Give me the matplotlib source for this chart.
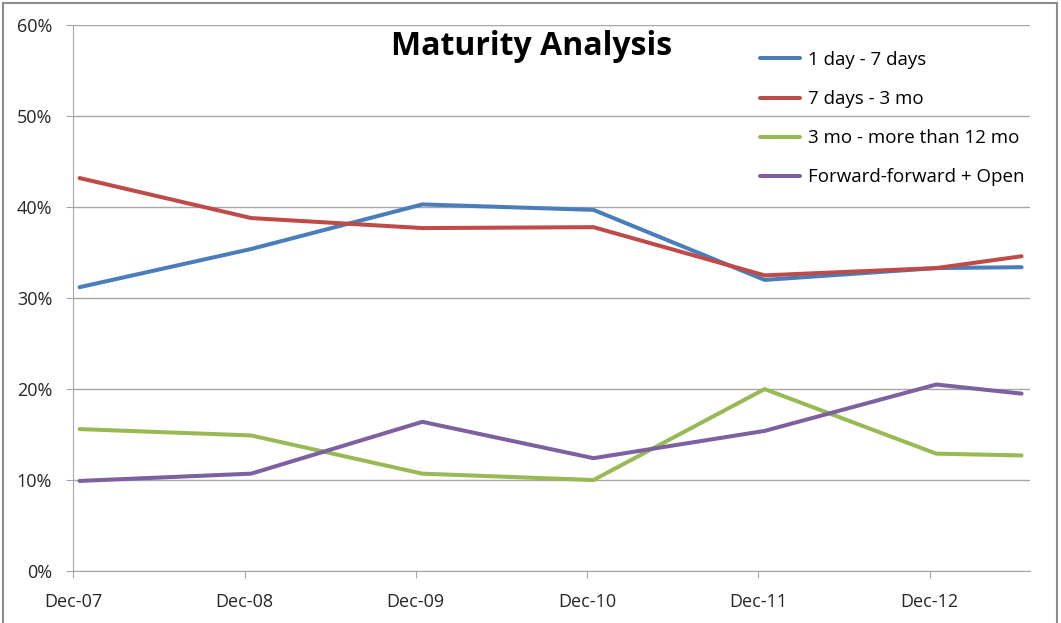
import pandas as pd
import matplotlib
matplotlib.use("Agg")
import matplotlib.pyplot as plt
import matplotlib.dates as mdates
from matplotlib.patches import Rectangle
from matplotlib.ticker import FuncFormatter

# Data (share of total, in %)
dates = pd.to_datetime(["2007-12-15", "2008-12-15", "2009-12-15", "2010-12-15",
                        "2011-12-15", "2012-12-15", "2013-06-15"])
one_day_7_days = [31.2, 35.4, 40.3, 39.7, 32.0, 33.3, 33.4]
seven_days_3_mo = [43.2, 38.8, 37.7, 37.8, 32.5, 33.3, 34.6]
three_mo_12_mo = [15.6, 14.9, 10.7, 10.0, 20.0, 12.9, 12.7]
fwd_fwd_open = [9.9, 10.7, 16.4, 12.4, 15.4, 20.5, 19.5]

labels = ["1 day - 7 days", "7 days - 3 mo", "3 mo - more than 12 mo", "Forward-forward + Open"]
colors = ["#4A7EBB", "#BE4B48", "#98B954", "#7D60A0"]

plt.rcParams['font.family'] = ['Open Sans', 'DejaVu Sans']

fig = plt.figure(figsize=(10.61, 6.23), dpi=100)
ax = fig.add_axes([0.0688, 0.0835, 0.902, 0.876])

# outer chart border
fig.patches.append(Rectangle((0.003, -0.05), 0.993, 1.045, transform=fig.transFigure,
                             fill=False, edgecolor="#8c8c8c", linewidth=1.5))

series = [one_day_7_days, seven_days_3_mo, three_mo_12_mo, fwd_fwd_open]
for vals, lab, col in zip(series, labels, colors):
    ax.plot(dates, vals, color=col, linewidth=2.9, label=lab, solid_capstyle="round")

ax.set_ylim(0, 60)
ax.set_yticks(range(0, 61, 10))
ax.yaxis.set_major_formatter(FuncFormatter(lambda v, p: f"{v:.0f}%"))
ax.set_xlim(pd.Timestamp("2007-12-01"), pd.Timestamp("2013-07-03"))
ax.xaxis.set_major_locator(mdates.MonthLocator(bymonth=12, bymonthday=1))
ax.xaxis.set_major_formatter(mdates.DateFormatter("Dec-%y"))

ax.grid(axis="y", color="#a6a6a6", linewidth=1)
ax.set_axisbelow(True)
for s in ["top", "right"]:
    ax.spines[s].set_visible(False)
for s in ["left", "bottom"]:
    ax.spines[s].set_color("#a6a6a6")
ax.tick_params(axis="both", colors="#a6a6a6", labelcolor="#262626", labelsize=13, length=5)
ax.tick_params(axis="x", pad=11)
ax.tick_params(axis="y", pad=10)

ax.text(0.479, 1 - 21 / 546, "Maturity Analysis", transform=ax.transAxes, ha="center",
        va="center", fontsize=23, fontweight="bold")

ax.legend(loc="upper left", bbox_to_anchor=(0.718, 0.953), frameon=False, fontsize=13.5,
          handlelength=2.1, handletextpad=0.45, labelspacing=1.13,
          borderpad=0, borderaxespad=0)

fig.savefig("out.png", dpi=100)
